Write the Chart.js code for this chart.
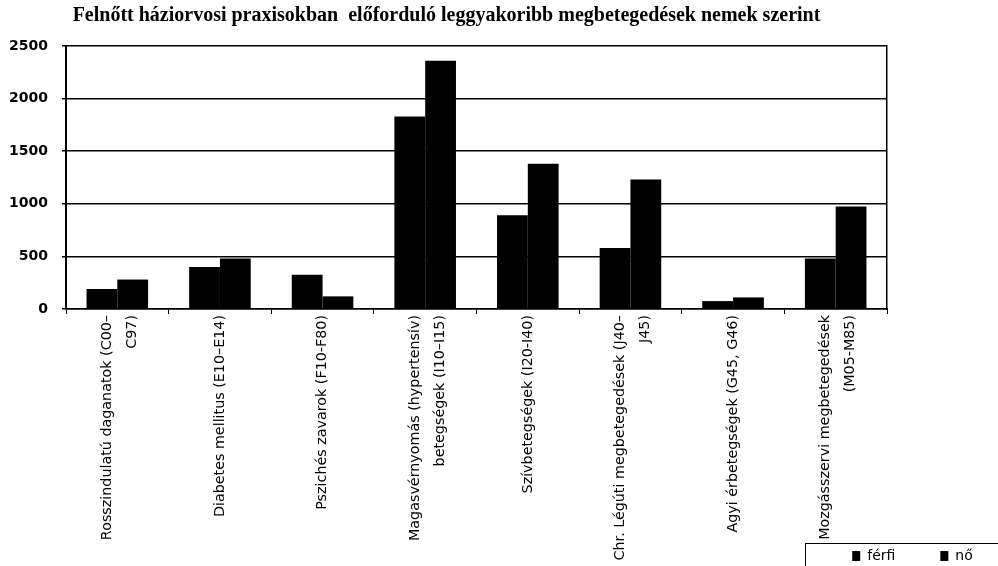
<!DOCTYPE html>
<html><head><meta charset="utf-8">
<script src="https://cdn.jsdelivr.net/npm/chart.js@4"></script>
<style>html,body{margin:0;padding:0;background:#fff}#wrap{width:998px;height:566px}</style>
</head><body><div id="wrap"><canvas id="c" width="998" height="566"></canvas></div>
<script>
const titleText = 'Felnőtt háziorvosi praxisokban  előforduló leggyakoribb megbetegedések nemek szerint';
const categories = [
  ['Rosszindulatú daganatok (C00–', 'C97)'],
  'Diabetes mellitus (E10–E14)',
  'Pszichés zavarok (F10-F80)',
  ['Magasvérnyomás (hypertensív)', 'betegségek (I10–I15)'],
  'Szívbetegségek (I20-I40)',
  ['Chr. Légúti megbetegedések (J40–', 'J45)'],
  'Agyi érbetegségek (G45, G46)',
  ['Mozgásszervi megbetegedések', '(M05-M85)']
];
const seriesNames = ['férfi', 'nő'];
const ferfi = [190, 400, 325, 1830, 890, 580, 75, 480];
const no = [280, 480, 120, 2360, 1380, 1230, 110, 975];
const yTicks = [0, 500, 1000, 1500, 2000, 2500];

const tweak = {
  id: 'tweak',
  beforeLayout(chart) {
    const l = chart.legend;
    if (l && !l._patched) {
      const of = l.fit.bind(l);
      l.fit = function () { of(); this.height = 0; };
      l._patched = true;
    }
  },
  afterLayout(chart) {
    const t = chart.titleBlock;
    if (t) { t.left = 0; t.right = 893; t.width = 893; }
    const l = chart.legend;
    if (l) { l.left = 805; l.right = 1020; l.width = 215; l.top = 504; l.bottom = 566; l.height = 62; }
  },
  beforeDraw(chart) {
    const items = chart.scales.x.getLabelItems();
    items.forEach(it => {
      if (!it._shifted && Array.isArray(it.label) && it.label.length > 1) {
        it.textOffset -= 10;
      }
      it._shifted = true;
    });
  },
  afterDraw(chart) {
    const ctx = chart.ctx;
    ctx.save();
    ctx.strokeStyle = '#000';
    ctx.lineWidth = 1;
    ctx.strokeRect(805.5, 543.5, 220, 40);
    ctx.restore();
  }
};

new Chart(document.getElementById('c'), {
  type: 'bar',
  data: {
    labels: categories,
    datasets: [
      { label: seriesNames[0], data: ferfi, backgroundColor: '#000', borderWidth: 0, categoryPercentage: 0.6, barPercentage: 1.0 },
      { label: seriesNames[1], data: no, backgroundColor: '#000', borderWidth: 0, categoryPercentage: 0.6, barPercentage: 1.0 }
    ]
  },
  options: {
    responsive: false,
    animation: false,
    devicePixelRatio: 1,
    layout: { padding: 0 },
    plugins: {
      title: {
        display: true,
        text: titleText,
        color: '#000',
        font: { family: 'Liberation Serif', size: 20, weight: 'bold', lineHeight: 1.1 },
        padding: { top: 5, bottom: 19 }
      },
      legend: {
        display: true,
        position: 'bottom',
        align: 'center',
        labels: {
          color: '#000',
          font: { family: 'DejaVu Sans', size: 14 },
          boxWidth: 8,
          boxHeight: 10,
          padding: 45
        }
      },
      tooltip: { enabled: false }
    },
    scales: {
      x: {
        offset: true,
        grid: { display: true, drawOnChartArea: false, drawTicks: true, tickLength: 5, color: '#000', offset: true },
        border: { display: true, color: '#000', width: 1.5 },
        ticks: {
          color: '#000',
          font: { family: 'DejaVu Sans', size: 14.3, lineHeight: 1.75 },
          minRotation: 90,
          maxRotation: 90,
          autoSkip: false,
          padding: 1
        },
        afterFit(scale) { scale.height = 257; }
      },
      y: {
        min: 0,
        max: 2500,
        afterBuildTicks(scale) { scale.ticks = yTicks.map(v => ({ value: v })); },
        grid: { color: '#000', lineWidth: 1.5, tickLength: 4, drawTicks: true },
        border: { display: true, color: '#000', width: 2 },
        ticks: {
          color: '#000',
          font: { family: 'DejaVu Sans', size: 14, weight: 'bold' },
          padding: 14,
          callback: (v) => String(v)
        },
        afterFit(scale) { scale.width = 66; }
      },
      y2: {
        position: 'right',
        display: true,
        grid: { drawOnChartArea: false, drawTicks: false },
        border: { display: true, color: '#000', width: 1.5 },
        ticks: { display: false },
        afterFit(scale) { scale.width = 111; }
      }
    }
  },
  plugins: [tweak]
});
</script>
</body></html>
